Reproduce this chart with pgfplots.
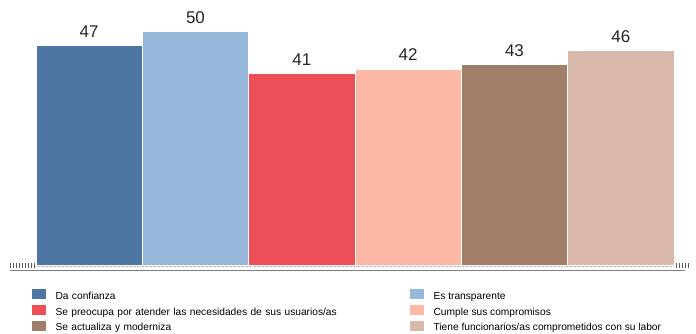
\documentclass[border=0pt]{standalone}
\usepackage{pgfplots}
\pgfplotsset{compat=1.18}
\usepackage{fontspec}
\setmainfont{Liberation Sans}
\definecolor{c1}{RGB}{78,118,163}
\definecolor{c2}{RGB}{151,184,218}
\definecolor{c3}{RGB}{238,78,85}
\definecolor{c4}{RGB}{253,183,165}
\definecolor{c5}{RGB}{160,126,105}
\definecolor{c6}{RGB}{217,186,170}
\begin{document}
\begin{tikzpicture}
\path[use as bounding box] (0,0) rectangle (696pt,334pt);
% dotted baseline and tick decorations
\draw[gray!60, densely dotted, line width=0.6pt] (36pt,67.5pt) -- (674pt,67.5pt);
\foreach \x in {10,13,...,34} \draw[gray!70!black, line width=0.5pt] (\x pt,66pt) -- (\x pt,71pt);
\foreach \x in {676,679,...,688} \draw[gray!70!black, line width=0.5pt] (\x pt,66pt) -- (\x pt,71pt);
\draw[gray, line width=1.6pt] (10pt,63.5pt) -- (685pt,63.5pt);
\begin{axis}[
  at={(36pt,68pt)}, anchor=south west,
  scale only axis, width=638pt, height=266pt,
  xmin=-0.5, xmax=5.5, ymin=0, ymax=56.8,
  axis line style={draw=none}, xtick=\empty, ytick=\empty,
  /pgf/number format/assume math mode=true,
  ybar, bar width=106.33pt, bar shift=0pt,
  clip=false,
  nodes near coords,
  every node near coord/.append style={font=\fontsize{17}{19}\selectfont, text=black!85, yshift=4.5pt},
  legend columns=2,
  legend style={at={(rel axis cs:-0.012,-0.080)}, anchor=north west, draw=none, fill=none,
    font=\fontsize{10.2}{12}\selectfont, row sep=2.2pt,
    /tikz/column 2/.style={text width=352pt, anchor=west},
    /tikz/column 4/.style={anchor=west}},
  legend cell align=left,
  legend image code/.code={\fill[#1, draw=none] (0pt,-3pt) rectangle (14pt,7pt); \path[draw=none, fill=none] (0pt,0pt) -- (22pt,0pt);},
]
\addplot[fill=c1, draw=white, line width=1pt] coordinates {(0,47)};
\addlegendentry{Da confianza}
\addplot[fill=c2, draw=white, line width=1pt] coordinates {(1,50)};
\addlegendentry{Es transparente}
\addplot[fill=c3, draw=white, line width=1pt] coordinates {(2,41)};
\addlegendentry{Se preocupa por atender las necesidades de sus usuarios/as}
\addplot[fill=c4, draw=white, line width=1pt] coordinates {(3,42)};
\addlegendentry{Cumple sus compromisos}
\addplot[fill=c5, draw=white, line width=1pt] coordinates {(4,43)};
\addlegendentry{Se actualiza y moderniza}
\addplot[fill=c6, draw=white, line width=1pt] coordinates {(5,46)};
\addlegendentry{Tiene funcionarios/as comprometidos con su labor}
\end{axis}
\end{tikzpicture}
\end{document}
